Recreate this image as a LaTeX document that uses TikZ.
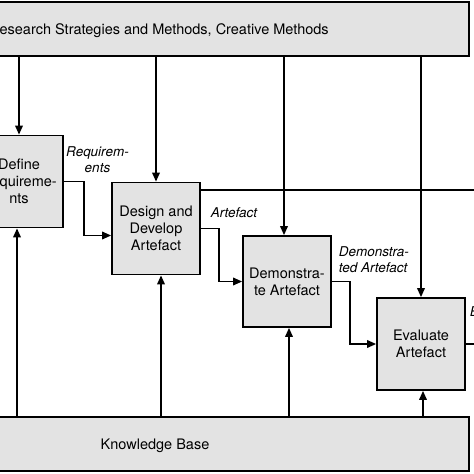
\documentclass[tikz,border=0pt]{standalone}
\usepackage{fontspec}
\setmainfont{TeX Gyre Heros}
\usepackage{xcolor}
\usetikzlibrary{arrows.meta}
\definecolor{boxgray}{gray}{0.89}

\begin{document}
\begin{tikzpicture}[x=1pt, y=-1pt, line width=1.7pt,
    activity/.style={draw, fill=boxgray, minimum width=88pt, minimum height=92pt,
        align=center, inner sep=2pt, font=\fontsize{14.5}{17}\selectfont},
    band/.style={draw, fill=boxgray, minimum height=54pt, text depth=0pt,
        font=\fontsize{14.5}{17}\selectfont},
    flow/.style={-{Triangle[length=9pt,width=7.5pt]}},
    flowtext/.style={inner sep=1pt, font=\fontsize{13.5}{16}\selectfont\itshape}]
    \useasboundingbox (0,0) rectangle (474,474);
    \clip (0,0) rectangle (474,474);

    \node[band, minimum width=620pt] (methods) at (159,28.75)
        {Research Strategies and Methods, Creative Methods};
    \node[band, minimum width=628pt] (knowledge) at (155,444) {Knowledge Base};

    \node[activity] (define) at (19,181.5) {Define\\Requireme-\\nts};
    \node[activity] (design) at (156,228.5) {Design and\\Develop\\Artefact};
    \node[activity, minimum height=91pt] (demo) at (287,281.5) {Demonstra-\\te Artefact};
    \node[activity] (evaluate) at (421,344) {Evaluate\\Artefact};

    % methods feed every activity
    \draw[flow] (define.north |- methods.south) -- (define.north);
    \draw[flow] (design.north |- methods.south) -- (design.north);
    \draw[flow] ([xshift=-3pt]demo.north |- methods.south) -- ([xshift=-3pt]demo.north);
    \draw[flow] (evaluate.north |- methods.south) -- (evaluate.north);

    % knowledge base feeds every activity
    \draw[flow] ([xshift=-2pt]define.south |- knowledge.north) -- ([xshift=-2pt]define.south);
    \draw[flow] ([xshift=5pt]design.south |- knowledge.north) -- ([xshift=5pt]design.south);
    \draw[flow] ([xshift=2pt]demo.south |- knowledge.north) -- ([xshift=2pt]demo.south);
    \draw[flow] ([xshift=2pt]evaluate.south |- knowledge.north) -- ([xshift=2pt]evaluate.south);

    % outputs passed on
    \draw[flow] (define.east) -- ++(20,0) |- ([yshift=-7pt]design.west);
    \draw[flow] (design.east) -- ++(18,0) |- (demo.west);
    \draw[flow] (demo.east) -- ++(18,0) |- (evaluate.west);
    \draw ([yshift=-8pt]design.north east) -- ++(300,0);
    \draw (evaluate.east) -- ++(20,0);

    \node[flowtext, align=center] (reqtext) at (97.5,160) {Requirem-\\ents};
    \node[flowtext, anchor=west] (arttext) at (209,213) {Artefact};
    \node[flowtext, align=left, anchor=west] (demotext) at (337,260) {Demonstra-\\ted Artefact};
    \node[flowtext, anchor=west] (evaltext) at (468,312) {E};
\end{tikzpicture}
\end{document}
